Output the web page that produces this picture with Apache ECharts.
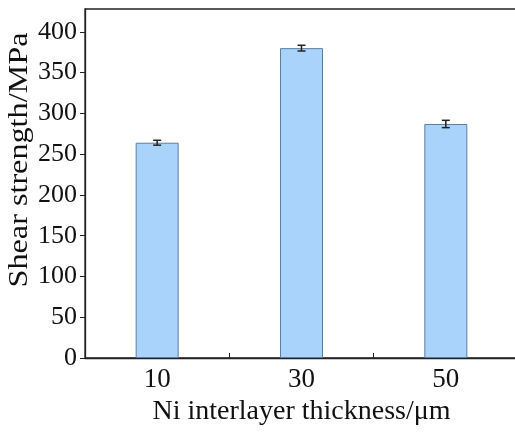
<!DOCTYPE html>
<html>
<head>
    <meta charset="utf-8">
    <title>Shear strength</title>
    <script src="https://cdn.jsdelivr.net/npm/echarts@6/dist/echarts.min.js"></script>
    <style>
        html, body { margin: 0; padding: 0; background: #fff; }
        #chart1 { width: 515px; height: 432px; }
    </style>
</head>
<body>
<div id="chart1"></div>
<script type="text/javascript">
    // 数据：Ni 中间层厚度 / 剪切强度 / 误差
    var thickness = [10, 30, 50];
    var strength = [264, 380, 287];
    var errors = [3, 3.5, 4.5];
    var xLabels = [10, 30, 50];

    var font = '"Liberation Serif", "Times New Roman", serif';
    var myChart1 = echarts.init(document.getElementById('chart1'));

    var barData = thickness.map(function (t, i) { return [t, strength[i]]; });
    var errData = thickness.map(function (t, i) { return [t, strength[i] - errors[i], strength[i] + errors[i]]; });

    myChart1.setOption({
        animation: false,
        grid: {
            left: 85, right: -3, top: 9, bottom: 74,
            outerBoundsMode: 'none',
            show: true, borderColor: '#222', borderWidth: 1.3, backgroundColor: 'transparent'
        },
        graphic: [{
            type: 'text',
            x: 20, y: 160,
            rotation: Math.PI / 2,
            scaleX: 1.15,
            style: {
                text: 'Shear strength/MPa',
                font: '28px ' + font,
                fill: '#111',
                textAlign: 'center',
                textVerticalAlign: 'middle'
            }
        }],
        xAxis: {
            type: 'value',
            min: 0, max: 60, interval: 10,
            splitLine: { show: false },
            axisLine: { lineStyle: { color: '#222', width: 1.3 } },
            axisTick: { inside: true, length: 5, lineStyle: { color: '#222' } },
            axisLabel: {
                margin: 8,
                color: '#111', fontSize: 27, fontFamily: font,
                formatter: function (v) { return xLabels.indexOf(v) >= 0 ? String(v) : ''; }
            },
            name: 'Ni interlayer thickness/μm',
            nameLocation: 'middle',
            nameGap: 38,
            nameTextStyle: { color: '#111', fontSize: 28, fontFamily: font }
        },
        yAxis: {
            type: 'value',
            min: 0, max: 428, interval: 50,
            splitLine: { show: false },
            axisLine: { show: true, lineStyle: { color: '#222', width: 1.3 } },
            axisTick: { show: true, length: 5, lineStyle: { color: '#222' } },
            axisLabel: {
                margin: 8,
                color: '#111', fontSize: 26, fontFamily: font,
                showMaxLabel: false,
                formatter: function (v) { return v % 50 === 0 ? String(v) : ''; }
            }
        },
        series: [
            {
                type: 'bar',
                data: barData,
                barWidth: 43,
                itemStyle: { color: '#a9d3fb', borderColor: '#5d7d9e', borderWidth: 1 }
            },
            {
                type: 'custom',
                data: errData,
                renderItem: function (params, api) {
                    var lo = api.coord([api.value(0), api.value(1)]);
                    var hi = api.coord([api.value(0), api.value(2)]);
                    var w = 4;
                    var st = { stroke: '#222', lineWidth: 1.5 };
                    return {
                        type: 'group',
                        children: [
                            { type: 'line', shape: { x1: hi[0], y1: hi[1], x2: lo[0], y2: lo[1] }, style: st },
                            { type: 'line', shape: { x1: hi[0] - w, y1: hi[1], x2: hi[0] + w, y2: hi[1] }, style: st },
                            { type: 'line', shape: { x1: lo[0] - w, y1: lo[1], x2: lo[0] + w, y2: lo[1] }, style: st }
                        ]
                    };
                },
                z: 5
            }
        ]
    });
</script>
</body>
</html>
